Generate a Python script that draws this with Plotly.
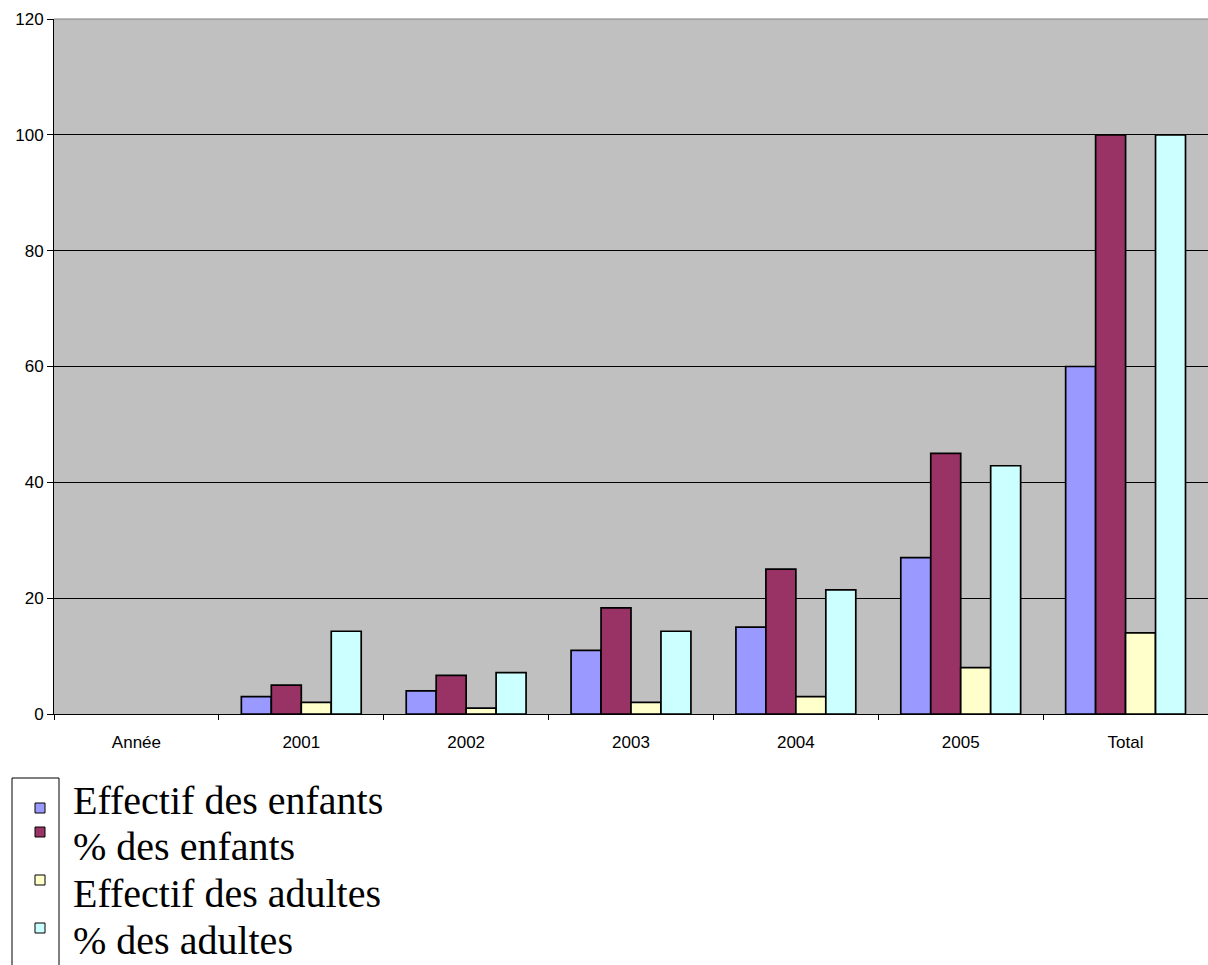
import plotly.graph_objects as go

categories = ["Année", "2001", "2002", "2003", "2004", "2005", "Total"]
series_names = ["Effectif des enfants", "% des enfants", "Effectif des adultes", "% des adultes"]
effectif_enfants = [None, 3, 4, 11, 15, 27, 60]
pct_enfants = [None, 5, 6.67, 18.33, 25, 45, 100]
effectif_adultes = [None, 2, 1, 2, 3, 8, 14]
pct_adultes = [None, 14.29, 7.14, 14.29, 21.43, 42.86, 100]
colors = ["#9999FF", "#993366", "#FFFFCC", "#CCFFFF"]
y_ticks = [0, 20, 40, 60, 80, 100, 120]

fig = go.Figure()
for name, vals, col in zip(series_names, [effectif_enfants, pct_enfants, effectif_adultes, pct_adultes], colors):
    fig.add_trace(go.Bar(x=categories, y=vals, name=name, marker=dict(color=col, line=dict(color="black", width=1.7)), showlegend=False))

fig.update_layout(
    width=1208, height=965,
    margin=dict(l=54, r=0, t=19, b=251),
    paper_bgcolor="white", plot_bgcolor="#C0C0C0",
    barmode="group", bargap=0.273, bargroupgap=0,
    font=dict(family="Liberation Sans, Arial", size=17, color="black"),
)
fig.update_yaxes(range=[0, 120], tickvals=y_ticks, showgrid=True, gridcolor="black", gridwidth=1,
                 showline=True, linecolor="black", linewidth=1, ticks="outside", ticklen=6, tickcolor="black",
                 zeroline=False, tickfont=dict(size=17))
fig.update_xaxes(showline=True, linecolor="black", linewidth=1, ticks="outside", ticklen=5, tickcolor="black",
                 tickson="boundaries", tickfont=dict(size=17), ticklabelstandoff=13)

# top border of plot area
fig.add_shape(type="line", xref="paper", yref="paper", x0=0, x1=1, y0=1, y1=1, line=dict(color="#808080", width=1))

# custom legend (Excel-style), pixel positions converted to paper coordinates
W = 1208 - 54
def px(p):
    return (p - 54) / W
def py(p):
    return 1 - (p - 19) / (714 - 19)

box_top = 778
fig.add_shape(type="line", xref="paper", yref="paper", x0=px(12), x1=px(12), y0=py(box_top), y1=py(966), line=dict(color="black", width=1))
fig.add_shape(type="line", xref="paper", yref="paper", x0=px(59), x1=px(59), y0=py(box_top), y1=py(966), line=dict(color="black", width=1))
fig.add_shape(type="line", xref="paper", yref="paper", x0=px(12), x1=px(59), y0=py(box_top), y1=py(box_top), line=dict(color="black", width=1))
marker_y = [808, 832, 880, 928]
text_y = [800, 846, 893, 940]
for name, col, my, ty in zip(series_names, colors, marker_y, text_y):
    fig.add_shape(type="rect", xref="paper", yref="paper", x0=px(35), x1=px(45), y0=py(my - 5), y1=py(my + 5),
                  fillcolor=col, line=dict(color="black", width=1))
    fig.add_annotation(text=name, xref="paper", yref="paper", x=px(71), y=py(ty), xanchor="left", yanchor="middle",
                       showarrow=False, font=dict(family="Liberation Serif, serif", size=40, color="black"))

fig.write_html("out.html")
